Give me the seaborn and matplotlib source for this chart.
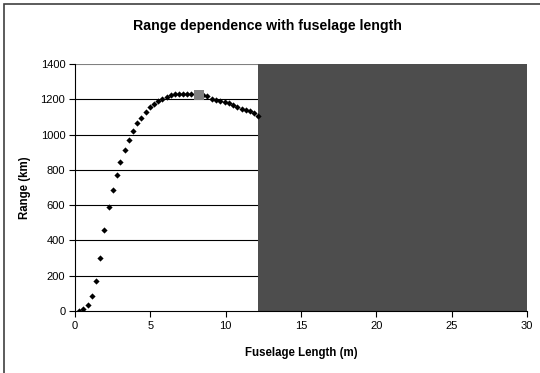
import matplotlib
matplotlib.use("Agg")
import matplotlib.pyplot as plt
import seaborn as sns
import pandas as pd
from matplotlib.patches import Rectangle

# ---- data ----
fuselage_length = [0.27, 0.55, 0.88, 1.15, 1.39, 1.66, 1.90, 2.23, 2.50, 2.77,
                   3.00, 3.34, 3.60, 3.85, 4.14, 4.40, 4.71, 5.00, 5.26, 5.53,
                   5.80, 6.08, 6.35, 6.61, 6.88, 7.19, 7.45, 7.72, 8.00, 8.50,
                   8.76, 9.07, 9.36, 9.65, 9.93, 10.20, 10.46, 10.75, 11.06, 11.33,
                   11.60, 11.86, 12.12]
range_km = [0, 13, 34, 83, 172, 300, 457, 590, 686, 769,
            845, 914, 969, 1020, 1064, 1096, 1130, 1155, 1175, 1192,
            1204, 1215, 1223, 1228, 1232, 1232, 1232, 1232, 1228, 1222,
            1217, 1202, 1196, 1190, 1186, 1177, 1169, 1158, 1147, 1141,
            1132, 1120, 1107]
optimum_length = [8.23]
optimum_range = [1223]
shaded_from = 12.15
x_ticks = [0, 5, 10, 15, 20, 25, 30]
y_ticks = [0, 200, 400, 600, 800, 1000, 1200, 1400]

title = "Range dependence with fuselage length"
x_label = "Fuselage Length (m)"
y_label = "Range (km)"

sns.set_style("white")
plt.rcParams["font.family"] = ["Liberation Sans", "DejaVu Sans"]
plt.rcParams["text.color"] = "black"
plt.rcParams["axes.labelcolor"] = "black"
plt.rcParams["xtick.color"] = "black"
plt.rcParams["ytick.color"] = "black"

fig = plt.figure(figsize=(5.4, 3.73), dpi=100)
ax = fig.add_axes([75 / 540, 1 - 311 / 373, (527 - 75) / 540, (311 - 64) / 373])

df = pd.DataFrame({"x": fuselage_length, "y": range_km})
opt = pd.DataFrame({"x": optimum_length, "y": optimum_range})

# gridlines
for yv in y_ticks[1:]:
    ax.axhline(yv, color="#000000" if yv < 1400 else "#808080", lw=0.8, zorder=1)

ax.axvspan(shaded_from, 30, color="#4d4d4d", lw=0, zorder=2)

sns.scatterplot(data=df, x="x", y="y", ax=ax, marker="D", s=10, color="black",
                edgecolor="black", linewidth=0, zorder=3)
sns.scatterplot(data=opt, x="x", y="y", ax=ax, marker="s", s=55, color="#7f7f7f",
                edgecolor="#7f7f7f", linewidth=0, zorder=4)

ax.set_xlim(0, 30)
ax.set_ylim(0, 1400)
ax.set_xticks(x_ticks)
ax.set_yticks(y_ticks)
ax.tick_params(axis="both", direction="out", length=4, width=0.8, color="black",
               labelsize=8, labelcolor="black", pad=3, bottom=True, left=True)
for s in ["top", "right"]:
    ax.spines[s].set_visible(False)
for s in ["left", "bottom"]:
    ax.spines[s].set_color("black")
    ax.spines[s].set_linewidth(0.8)
    ax.spines[s].set_zorder(5)

ax.set_xlabel(x_label, fontsize=8.3, fontweight="bold", labelpad=12, color="black")
ax.set_ylabel(y_label, fontsize=8.3, fontweight="bold", labelpad=7, color="black")
fig.text(0.495, 1 - 26 / 373, title, ha="center", va="center", fontsize=10.2,
         fontweight="bold", color="black")

# chart frame (visible on top and left edges)
fig.patches.append(Rectangle((4 / 540, -0.1), 2, 1.1 - 4 / 373, transform=fig.transFigure,
                             fill=False, edgecolor="#404040", lw=1.2, clip_on=False))

fig.savefig("out.png", dpi=100)
